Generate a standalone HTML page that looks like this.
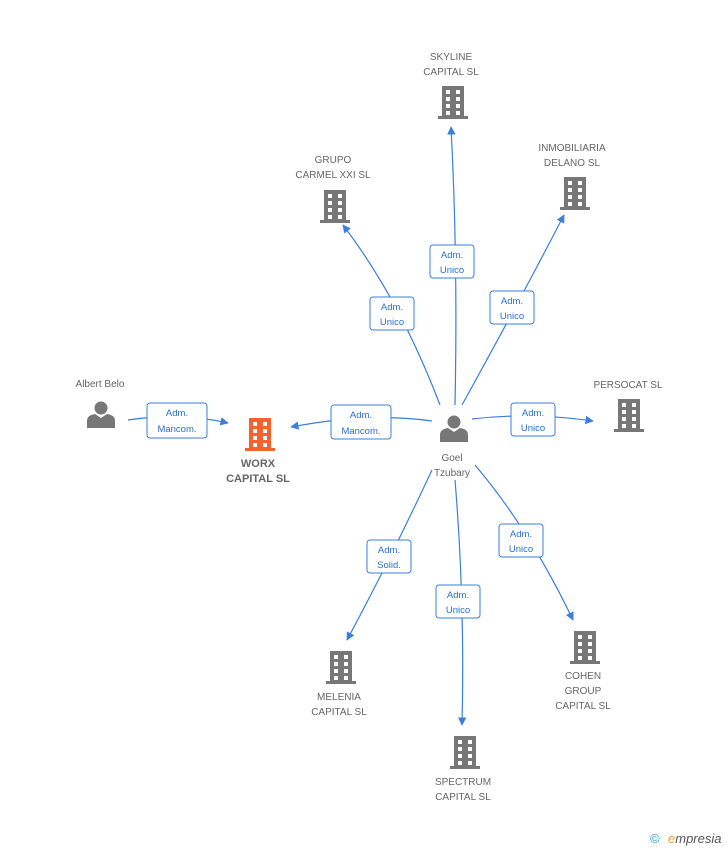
<!DOCTYPE html>
<html><head><meta charset="utf-8"><style>
body{margin:0;background:#fff;width:728px;height:850px;overflow:hidden}
svg{font-family:"Liberation Sans",sans-serif}
.t{font-size:10px;fill:#666;text-anchor:middle}
.b{font-size:9.5px;fill:#2a6fd6;text-anchor:middle}
</style></head><body>
<svg width="728" height="850" viewBox="0 0 728 850">
<defs>
<marker id="a" viewBox="0 0 10 10" refX="9" refY="5" markerWidth="7" markerHeight="7" orient="auto"><path d="M0,0L10,5L0,10z" fill="#3b7de0"/></marker>
<g id="bld"><rect x="-11" y="-16" width="22" height="30" fill="currentColor"/><rect x="-15" y="14" width="30" height="3" fill="currentColor"/>
<g fill="#fff"><rect x="-7" y="-12" width="4" height="4"/><rect x="3" y="-12" width="4" height="4"/><rect x="-7" y="-5" width="4" height="4"/><rect x="3" y="-5" width="4" height="4"/><rect x="-7" y="2" width="4" height="4"/><rect x="3" y="2" width="4" height="4"/><rect x="-7" y="9" width="4" height="4"/><rect x="3" y="9" width="4" height="4"/></g></g>
<g id="per" fill="#777"><circle cx="0" cy="-7" r="6.5"/><path d="M-14,13 L-14,6 Q-14,0 -6,-1 L0,3 L6,-1 Q14,0 14,6 L14,13z"/></g>
</defs>
<g fill="none" stroke="#3b7de0" stroke-width="1.2">
<path d="M455,405 Q458,260 451,127" marker-end="url(#a)"/>
<path d="M440,405 Q400,300 343,225" marker-end="url(#a)"/>
<path d="M462,405 Q520,300 564,215" marker-end="url(#a)"/>
<path d="M472,419 Q530,412 593,421" marker-end="url(#a)"/>
<path d="M432,421 Q370,412 291,427" marker-end="url(#a)"/>
<path d="M128,420 Q180,412 228,423" marker-end="url(#a)"/>
<path d="M432,470 Q390,560 347,640" marker-end="url(#a)"/>
<path d="M455,480 Q465,600 462,725" marker-end="url(#a)"/>
<path d="M475,465 Q530,530 573,620" marker-end="url(#a)"/>
</g>
<g fill="#fff" stroke="#3b7de0" stroke-width="1">
<rect x="430" y="245" width="44" height="33" rx="3"/>
<rect x="370" y="297" width="44" height="33" rx="3"/>
<rect x="490" y="291" width="44" height="33" rx="3"/>
<rect x="511" y="403" width="44" height="33" rx="3"/>
<rect x="331" y="405" width="60" height="34" rx="3"/>
<rect x="147" y="403" width="60" height="35" rx="3"/>
<rect x="367" y="540" width="44" height="33" rx="3"/>
<rect x="436" y="585" width="44" height="33" rx="3"/>
<rect x="499" y="524" width="44" height="33" rx="3"/>
</g>
<g class="b">
<text x="452" y="258" class="b">Adm.</text><text x="452" y="273" class="b">Unico</text>
<text x="392" y="310" class="b">Adm.</text><text x="392" y="325" class="b">Unico</text>
<text x="512" y="304" class="b">Adm.</text><text x="512" y="319" class="b">Unico</text>
<text x="533" y="416" class="b">Adm.</text><text x="533" y="431" class="b">Unico</text>
<text x="361" y="418" class="b">Adm.</text><text x="361" y="434" class="b">Mancom.</text>
<text x="177" y="416" class="b">Adm.</text><text x="177" y="432" class="b">Mancom.</text>
<text x="389" y="553" class="b">Adm.</text><text x="389" y="568" class="b">Solid.</text>
<text x="458" y="598" class="b">Adm.</text><text x="458" y="613" class="b">Unico</text>
<text x="521" y="537" class="b">Adm.</text><text x="521" y="552" class="b">Unico</text>
</g>
<g color="#777">
<use href="#bld" x="453" y="102"/>
<use href="#bld" x="335" y="206"/>
<use href="#bld" x="575" y="193"/>
<use href="#bld" x="629" y="415"/>
<use href="#bld" x="341" y="667"/>
<use href="#bld" x="465" y="752"/>
<use href="#bld" x="585" y="647"/>
</g>
<use href="#bld" x="260" y="434" style="color:#f4622e"/>
<use href="#per" x="101" y="415"/>
<use href="#per" x="454" y="429"/>
<text class="t" x="451" y="60">SKYLINE</text><text class="t" x="451" y="75">CAPITAL SL</text>
<text class="t" x="333" y="163">GRUPO</text><text class="t" x="333" y="178">CARMEL XXI SL</text>
<text class="t" x="572" y="151">INMOBILIARIA</text><text class="t" x="572" y="166">DELANO SL</text>
<text class="t" x="628" y="388">PERSOCAT SL</text>
<text class="t" x="100" y="387">Albert Belo</text>
<text class="t" x="452" y="461">Goel</text><text class="t" x="452" y="476">Tzubary</text>
<text class="t" x="258" y="467" style="font-weight:bold;font-size:11px">WORX</text><text class="t" x="258" y="482" style="font-weight:bold;font-size:11px">CAPITAL SL</text>
<text class="t" x="339" y="700">MELENIA</text><text class="t" x="339" y="715">CAPITAL SL</text>
<text class="t" x="463" y="785">SPECTRUM</text><text class="t" x="463" y="800">CAPITAL SL</text>
<text class="t" x="583" y="679">COHEN</text><text class="t" x="583" y="694">GROUP</text><text class="t" x="583" y="709">CAPITAL SL</text>
<text x="650" y="843" style="font-size:13px;fill:#2a9ed6">©</text>
<text x="668" y="843" style="font-size:13px;fill:#555;font-style:italic"><tspan fill="#f4a020">e</tspan>mpresia</text>
</svg>
</body></html>
